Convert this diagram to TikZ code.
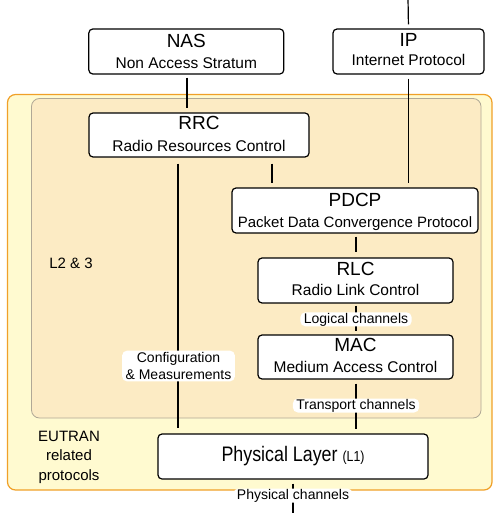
\documentclass[tikz,border=0pt]{standalone}
\usepackage{fontspec}
\setmainfont{Liberation Sans}
\newfontfamily\narrowfont[FakeStretch=0.85]{Liberation Sans}
\usetikzlibrary{calc}
\definecolor{eutranfill}{RGB}{255,250,208}
\definecolor{eutranline}{RGB}{240,160,40}
\definecolor{ltfill}{RGB}{252,235,196}
\definecolor{ltline}{RGB}{176,168,150}
\tikzset{
  proto/.style={draw=black, line width=1.2pt, rounded corners=4pt, fill=white, inner sep=0pt, minimum height=45pt},
  ttl/.style={anchor=base, inner sep=0pt, font=\fontsize{19}{22}\selectfont},
  sub/.style={anchor=base, inner sep=0pt, font=\fontsize{15.5}{18}\selectfont},
  link/.style={line width=1.2pt, shorten >=4pt, shorten <=4pt},
  chanbg/.style={fill=white, rounded corners=5pt, inner xsep=3.5pt, font=\fontsize{14}{17.5}\selectfont},
  chan/.style={chanbg, inner ysep=1pt, text height=10pt, text depth=2pt},
  side/.style={inner sep=0pt, align=center, font=\fontsize{15}{19.5}\selectfont},
}
\begin{document}
\begin{tikzpicture}[x=1pt,y=-1pt]
\useasboundingbox (0,0) rectangle (500,513);
% containers
\draw[draw=eutranline, fill=eutranfill, line width=1.2pt, rounded corners=8pt] (7.5,94.5) rectangle (492,490);
\draw[draw=ltline, fill=ltfill, line width=0.8pt, rounded corners=8pt] (31.5,98.5) rectangle (481,418);
\node[side] (l23) at (71,263.5) {L2 \& 3};
\node[side] (eutran) at (69,457) {EUTRAN\\related\\protocols};
% boxes
\node[proto, minimum width=195pt] (nas) at (186.3,51.5) {};
\node[proto, minimum width=151pt] (ip) at (408.5,51.5) {};
\node[proto, minimum width=220pt, minimum height=44pt] (rrc) at (199,135) {};
\node[proto, minimum width=246pt] (pdcp) at (355,210.5) {};
\node[proto, minimum width=195pt] (rlc) at (355.5,280.5) {};
\node[proto, minimum width=195pt, minimum height=44pt] (mac) at (355.5,357) {};
\node[proto, minimum width=270pt] (phy) at (293,456.5) {};
% texts
\node[ttl] (nast) at ($(nas.north)+(0,19)$) {NAS};
\node[sub] (nass) at ($(nas.north)+(0,40)$) {Non Access Stratum};
\node[ttl] (ipt) at ($(ip.north)+(0,18.5)$) {IP};
\node[sub] (ips) at ($(ip.north)+(0,37)$) {Internet Protocol};
\node[ttl] (rrct) at ($(rrc.north)+(0,17.5)$) {RRC};
\node[sub] (rrcs) at ($(rrc.north)+(0,38.7)$) {Radio Resources Control};
\node[ttl] (pdcpt) at ($(pdcp.north)+(0,19)$) {PDCP};
\node[sub, font=\fontsize{15}{18}\selectfont] (pdcps) at ($(pdcp.north)+(0,40)$) {Packet Data Convergence Protocol};
\node[ttl] (rlct) at ($(rlc.north)+(0,17.7)$) {RLC};
\node[sub] (rlcs) at ($(rlc.north)+(0,37.7)$) {Radio Link Control};
\node[ttl] (mact) at ($(mac.north)+(0,17.3)$) {MAC};
\node[sub] (macs) at ($(mac.north)+(0,38.3)$) {Medium Access Control};
\node[anchor=base, inner sep=0pt] (phyt) at ($(phy.north)+(0,27.7)$) {{\narrowfont\fontsize{21}{24}\selectfont Physical Layer\ }{\narrowfont\fontsize{14.5}{16}\selectfont (L1)}};
% connector x positions
\coordinate (top) at (408,-2);
\coordinate (xnas) at (187,0);
\coordinate (xctl) at (272,0);
\coordinate (xcfg) at (178,0);
\coordinate (xrlc) at (356,0);
\coordinate (bot) at (293,515);
% connectors
\draw[link, shorten >=0pt] (ip.north) -- (top);
\draw[link] (ip.south) -- (pdcp.north -| ip.south);
\draw[link, shorten <=3pt] (nas.south -| xnas) -- (rrc.north -| xnas);
\draw[link, shorten <=6pt] (rrc.south -| xctl) -- (pdcp.north -| xctl);
\draw[link, shorten <=6pt, shorten >=5pt] (rrc.south -| xcfg) -- (phy.north -| xcfg);
\draw[link, shorten <=3pt, shorten >=5pt] (pdcp.south -| xrlc) -- (rlc.north -| xrlc);
\draw[link, shorten <=2pt, shorten >=3pt] (rlc.south -| xrlc) -- (mac.north -| xrlc);
\draw[link, shorten >=4pt] (mac.south -| xrlc) -- (phy.north -| xrlc);
\draw[link, shorten >=0pt] (phy.south) -- (bot);
% channel labels
\node[chan] (logch) at (356,319.3) {Logical channels};
\node[chan] (trch) at (356,405.5) {Transport channels};
\node[chan] (phch) at (293,495.5) {Physical channels};
\node[chanbg, align=center, inner ysep=1.5pt] (cfg) at (178.5,366) {Configuration\\\& Measurements};
\end{tikzpicture}
\end{document}
